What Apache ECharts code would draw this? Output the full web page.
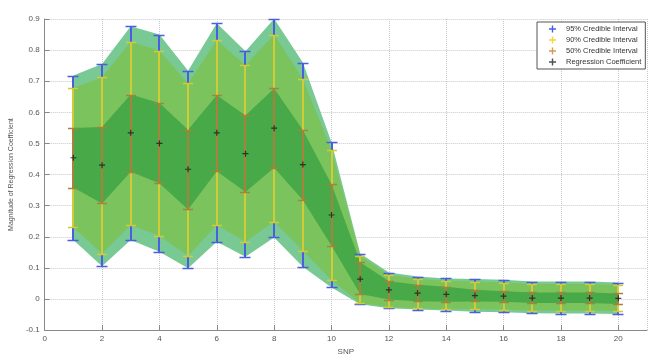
<!DOCTYPE html>
<html>
<head>
<meta charset="utf-8">
<script src="https://cdn.jsdelivr.net/npm/echarts@6/dist/echarts.min.js"></script>
<style>
    html, body { margin: 0; padding: 0; background: #fff; }
    #chart { width: 660px; height: 361px; }
</style>
</head>
<body>
<div id="chart"></div>
<script>
    // values
    const snp = [1, 2, 3, 4, 5, 6, 7, 8, 9, 10, 11, 12, 13, 14, 15, 16, 17, 18, 19, 20]
    const ci95Lower = [0.190, 0.105, 0.190, 0.152, 0.099, 0.184, 0.136, 0.198, 0.104, 0.037, -0.017, -0.030, -0.034, -0.037, -0.041, -0.043, -0.046, -0.047, -0.047, -0.048]
    const ci95Upper = [0.718, 0.755, 0.877, 0.850, 0.734, 0.886, 0.796, 0.901, 0.760, 0.504, 0.146, 0.085, 0.072, 0.066, 0.064, 0.062, 0.056, 0.056, 0.056, 0.053]
    const ci90Lower = [0.230, 0.146, 0.238, 0.203, 0.139, 0.238, 0.184, 0.249, 0.155, 0.061, -0.014, -0.025, -0.030, -0.032, -0.032, -0.034, -0.037, -0.037, -0.037, -0.039]
    const ci90Upper = [0.678, 0.713, 0.827, 0.798, 0.693, 0.832, 0.751, 0.850, 0.707, 0.479, 0.139, 0.078, 0.064, 0.059, 0.056, 0.053, 0.048, 0.048, 0.048, 0.045]
    const ci50Lower = [0.358, 0.307, 0.409, 0.372, 0.288, 0.411, 0.344, 0.422, 0.318, 0.171, 0.016, -0.002, -0.007, -0.009, -0.008, -0.009, -0.013, -0.013, -0.013, -0.016]
    const ci50Upper = [0.550, 0.553, 0.657, 0.630, 0.544, 0.655, 0.590, 0.677, 0.543, 0.369, 0.118, 0.057, 0.046, 0.039, 0.030, 0.025, 0.021, 0.021, 0.021, 0.018]
    const coef = [0.454, 0.430, 0.534, 0.500, 0.417, 0.534, 0.467, 0.549, 0.432, 0.270, 0.064, 0.029, 0.019, 0.015, 0.011, 0.009, 0.003, 0.003, 0.003, 0.002]

    const legendNames = ['95% Credible Interval', '90% Credible Interval', '50% Credible Interval', 'Regression Coefficient']
    const font = "'Liberation Sans', Arial, sans-serif"
    const plusIcon = 'path://M4,0L6,0L6,4L10,4L10,6L6,6L6,10L4,10L4,6L0,6L0,4L4,4Z'

    // filled band between lower and upper, drawn as one polygon
    function band(lower, upper, color) {
        return {
            type: 'custom',
            silent: true,
            encode: { x: 0, y: [1, 2] },
            data: snp.map((x, i) => [x, lower[i], upper[i]]),
            renderItem(params, api) {
                if (params.dataIndex !== 0) return
                const pts = []
                snp.forEach((x, i) => pts.push(api.coord([x, upper[i]])))
                for (let i = snp.length - 1; i >= 0; i--) pts.push(api.coord([snp[i], lower[i]]))
                return {
                    type: 'polygon',
                    shape: { points: pts },
                    style: { fill: color }
                }
            }
        }
    }

    // vertical bar with caps at both ends
    function errorBar(name, lower, upper, color, lineW, capW) {
        return {
            type: 'custom',
            name: name,
            silent: true,
            itemStyle: { color: color },
            encode: { x: 0, y: [1, 2] },
            data: snp.map((x, i) => [x, lower[i], upper[i]]),
            renderItem(params, api) {
                const lo = api.coord([api.value(0), api.value(1)])
                const hi = api.coord([api.value(0), api.value(2)])
                // snap to the pixel grid so the bars line up over each other
                const cx = Math.round(lo[0])
                const yLo = Math.round(lo[1]) + 0.5
                const yHi = Math.round(hi[1]) + 0.5
                const hw = capW / 2
                return {
                    type: 'group',
                    children: [
                        { type: 'line', shape: { x1: cx, y1: yLo, x2: cx, y2: yHi }, style: { stroke: color, lineWidth: lineW } },
                        { type: 'line', shape: { x1: cx - hw, y1: yLo, x2: cx + hw, y2: yLo }, style: { stroke: color, lineWidth: 1.5 } },
                        { type: 'line', shape: { x1: cx - hw, y1: yHi, x2: cx + hw, y2: yHi }, style: { stroke: color, lineWidth: 1.5 } }
                    ]
                }
            }
        }
    }

    const chart = echarts.init(document.getElementById('chart'))
    const option = {
        animation: false,
        backgroundColor: '#fff',
        textStyle: { fontFamily: font },
        grid: { left: 40, right: 13, top: 19, bottom: 29 },
        legend: {
            orient: 'vertical',
            left: 537,
            top: 22,
            padding: [3, 4, 3, 12],
            itemGap: 3,
            itemWidth: 7,
            itemHeight: 7,
            borderColor: '#555',
            borderWidth: 1,
            backgroundColor: '#fff',
            textStyle: { fontSize: 7.5, color: '#333', fontFamily: font, padding: [0, 0, 0, 5] },
            data: [
                { name: legendNames[0], icon: plusIcon, itemStyle: { color: '#4a5fe0' } },
                { name: legendNames[1], icon: plusIcon, itemStyle: { color: '#f0d830' } },
                { name: legendNames[2], icon: plusIcon, itemStyle: { color: '#d99a50' } },
                { name: legendNames[3], icon: plusIcon, itemStyle: { color: '#222' } }
            ]
        },
        xAxis: {
            type: 'value',
            min: 0,
            max: 21,
            interval: 2,
            name: 'SNP',
            nameLocation: 'middle',
            nameGap: 15,
            nameTextStyle: { fontSize: 8, color: '#555' },
            axisLine: { onZero: false, lineStyle: { color: '#888' } },
            axisTick: { inside: true, length: 5, lineStyle: { color: '#888' } },
            axisLabel: { fontSize: 8, color: '#555', margin: 5, showMaxLabel: false },
            splitLine: { lineStyle: { color: '#c8c8c8', type: [1, 1] } }
        },
        yAxis: {
            type: 'value',
            min: -0.1,
            max: 0.9,
            interval: 0.1,
            name: 'Magnitude of Regression Coefficient',
            nameLocation: 'middle',
            nameGap: 15,
            nameTextStyle: { fontSize: 7, color: '#555' },
            axisLine: { show: true, lineStyle: { color: '#888' } },
            axisTick: { show: true, inside: true, length: 5, lineStyle: { color: '#888' } },
            axisLabel: {
                fontSize: 8,
                color: '#555',
                margin: 5,
                formatter: v => String(Math.round(v * 10) / 10)
            },
            splitLine: { lineStyle: { color: '#c8c8c8', type: [1, 1] } }
        },
        series: [
            band(ci95Lower, ci95Upper, '#79c994'),
            band(ci90Lower, ci90Upper, '#7bc35c'),
            band(ci50Lower, ci50Upper, '#47a947'),
            errorBar(legendNames[0], ci95Lower, ci95Upper, '#4a5fe0', 2, 11),
            errorBar(legendNames[1], ci90Lower, ci90Upper, '#d2cb36', 2, 10),
            errorBar(legendNames[2], ci50Lower, ci50Upper, '#a8823c', 2, 10),
            {
                type: 'scatter',
                name: legendNames[3],
                symbol: plusIcon,
                symbolSize: 6,
                silent: true,
                itemStyle: { color: '#1a1a1a' },
                data: snp.map((x, i) => [x, coef[i]])
            }
        ]
    }
    chart.setOption(option)
    window.addEventListener('resize', () => {
        chart.resize()
    })
</script>
</body>
</html>
